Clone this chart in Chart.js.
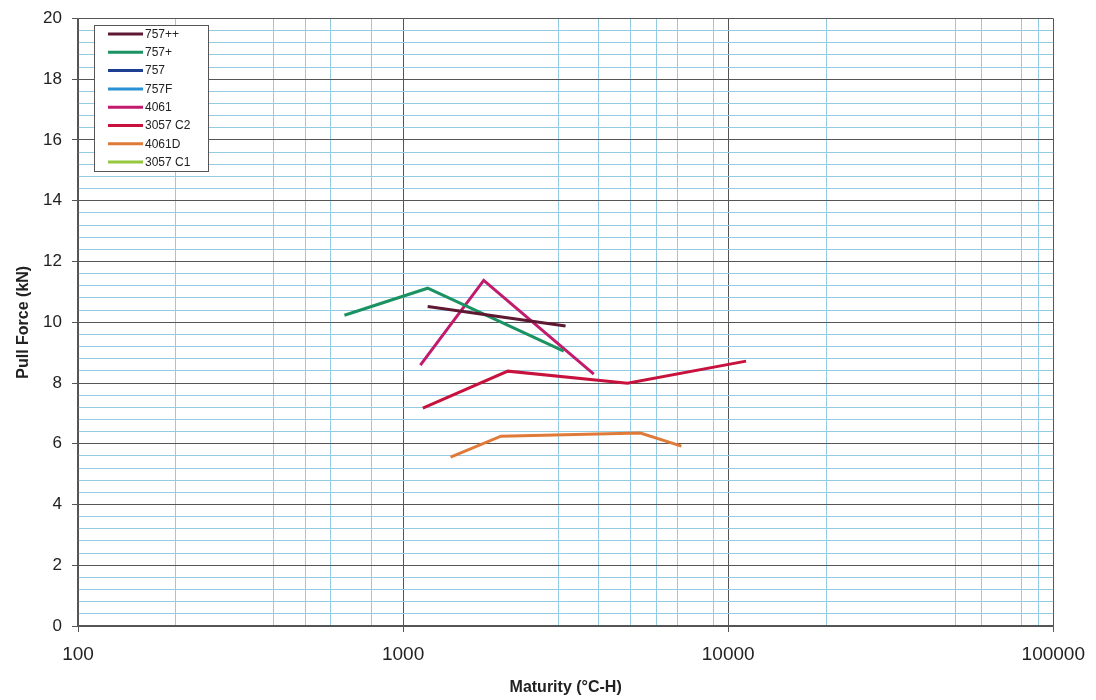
<!DOCTYPE html>
<html>
<head>
<meta charset="utf-8">
<script src="https://cdn.jsdelivr.net/npm/chart.js@4.4.0/dist/chart.umd.min.js"></script>
<style>
html, body { margin: 0; padding: 0; background: #fff; }
</style>
</head>
<body>
<canvas id="plotPull" width="1096" height="700"></canvas>
<script>
// series names + values: [maturity, pull force]
var seriesNames = ['757++', '757+', '757', '757F', '4061', '3057 C2', '4061D', '3057 C1'];
var seriesColors = ['#5e1832', '#1a9262', '#1c3f92', '#2a92d2', '#c21a6c', '#c8123e', '#e07a38', '#94c840'];

var data757pp = [[1190, 10.52], [3160, 9.88]];
var data757p = [[660, 10.23], [1190, 11.12], [3120, 9.05]];
var data757 = [];
var data757F = [];
var data4061 = [[1130, 8.59], [1770, 11.38], [3860, 8.29]];
var data3057C2 = [[1150, 7.17], [2100, 8.39], [4900, 7.99], [11350, 8.72]];
var data4061D = [[1400, 5.56], [2000, 6.25], [5370, 6.35], [7180, 5.92]];
var data3057C1 = [];

var allSeries = [data757pp, data757p, data757, data757F, data4061, data3057C2, data4061D, data3057C1];

// axis ticks / gridlines
var xTickLabels = [100, 1000, 10000, 100000];
var xMinorGrid = [200, 400, 500, 600, 800, 3000, 4000, 5000, 6000, 7000, 9000, 20000, 50000, 60000, 80000, 90000];
var yTickLabels = [0, 2, 4, 6, 8, 10, 12, 14, 16, 18, 20];
var yMinorStep = 0.4;

var majorColor = '#555555';
var minorColor = '#94cbe2';

function isXMajor(v) { return xTickLabels.indexOf(v) >= 0; }
function isYMajor(v) { return yTickLabels.indexOf(Math.round(v * 10) / 10) >= 0; }

var datasets = seriesNames.map(function (name, i) {
    return {
        label: name,
        data: allSeries[i].map(function (p) { return { x: p[0], y: p[1] }; }),
        borderColor: seriesColors[i],
        backgroundColor: seriesColors[i],
        borderWidth: 3,
        pointRadius: 0,
        tension: 0,
        fill: false
    };
});

// legend drawn as a boxed key inside the plot, like the original
var boxLegend = {
    id: 'boxLegend',
    afterDatasetsDraw: function (chart) {
        var c = chart.ctx;
        var x0 = 94, y0 = 25, w = 114, h = 146;
        c.save();
        c.fillStyle = '#fff';
        c.fillRect(x0, y0, w, h);
        c.strokeStyle = '#555';
        c.lineWidth = 1;
        c.strokeRect(x0 + 0.5, y0 + 0.5, w, h);
        c.font = '12px Arial, "Liberation Sans", sans-serif';
        c.textBaseline = 'middle';
        c.fillStyle = '#222';
        chart.data.datasets.forEach(function (ds, i) {
            var y = 34 + i * 18.3;
            c.strokeStyle = ds.borderColor;
            c.lineWidth = 3;
            c.beginPath();
            c.moveTo(108, y);
            c.lineTo(143, y);
            c.stroke();
            c.fillText(ds.label, 145, y + 0.5);
        });
        c.restore();
    }
};

var ctx = document.getElementById('plotPull').getContext('2d');
var pullChart = new Chart(ctx, {
    type: 'line',
    data: { datasets: datasets },
    plugins: [boxLegend],
    options: {
        responsive: false,
        animation: false,
        layout: { padding: { top: 18, right: 41, left: 0, bottom: 0 } },
        plugins: {
            legend: { display: false },
            tooltip: { enabled: false }
        },
        scales: {
            x: {
                type: 'logarithmic',
                min: 100,
                max: 100000,
                afterBuildTicks: function (scale) {
                    var vals = xTickLabels.concat(xMinorGrid).sort(function (a, b) { return a - b; });
                    scale.ticks = vals.map(function (v) { return { value: v }; });
                },
                afterFit: function (scale) { scale.height = 74; },
                ticks: {
                    autoSkip: false,
                    maxRotation: 0,
                    padding: 11,
                    color: '#222',
                    font: { family: 'Arial, "Liberation Sans", sans-serif', size: 19 },
                    callback: function (value) { return isXMajor(value) ? String(value) : ''; }
                },
                grid: {
                    color: function (c) { return c.tick && isXMajor(c.tick.value) ? majorColor : minorColor; },
                    tickColor: function (c) { return c.tick && isXMajor(c.tick.value) ? majorColor : 'rgba(0,0,0,0)'; },
                    tickLength: 6,
                    lineWidth: 1
                },
                border: { display: true, color: majorColor, width: 1.5 },
                title: {
                    display: true,
                    text: 'Maturity (°C-H)',
                    color: '#222',
                    font: { family: 'Arial, "Liberation Sans", sans-serif', size: 16, weight: 'bold' },
                    padding: { top: 0, bottom: 3 }
                }
            },
            y: {
                min: 0,
                max: 20,
                afterBuildTicks: function (scale) {
                    var t = [];
                    for (var k = 0; k <= 50; k++) t.push({ value: Math.round(k * yMinorStep * 10) / 10 });
                    scale.ticks = t;
                },
                afterFit: function (scale) { scale.width = 78; },
                ticks: {
                    autoSkip: false,
                    padding: 10,
                    color: '#222',
                    font: { family: 'Arial, "Liberation Sans", sans-serif', size: 17, lineHeight: 1 },
                    callback: function (value) { return isYMajor(value) ? String(Math.round(value)) : ''; }
                },
                grid: {
                    color: function (c) { return c.tick && isYMajor(c.tick.value) ? majorColor : minorColor; },
                    tickColor: function (c) { return c.tick && isYMajor(c.tick.value) ? majorColor : 'rgba(0,0,0,0)'; },
                    tickLength: 6,
                    lineWidth: 1
                },
                border: { display: true, color: majorColor, width: 1.5 },
                title: {
                    display: true,
                    text: 'Pull Force (kN)',
                    color: '#222',
                    font: { family: 'Arial, "Liberation Sans", sans-serif', size: 16, weight: 'bold' },
                    padding: { top: 14, bottom: 0 }
                }
            }
        }
    }
});
</script>
</body>
</html>
